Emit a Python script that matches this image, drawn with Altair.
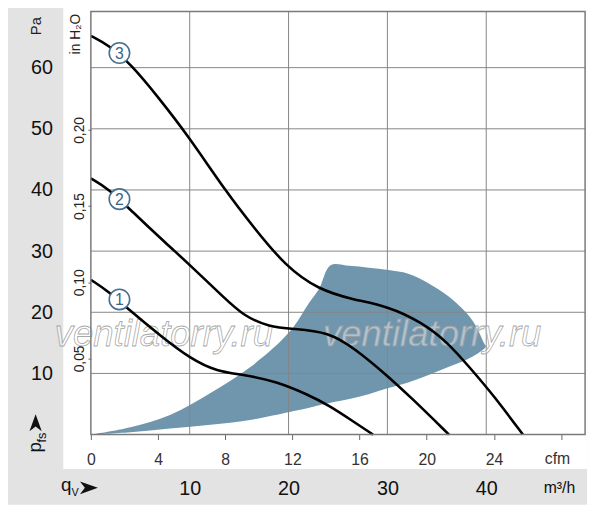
import altair as alt
import pandas as pd

# ---------------- data ----------------
# fan curves: volume flow in m³/h, static pressure in Pa
c1_q = [0, 1.8, 3.79, 7.09, 10.08, 12.77, 15.47, 18.76, 22.06, 24.05, 26.45, 28.54]
c1_p = [25.3, 23.4, 20.5, 16.1, 12.4, 10.3, 9.8, 8.7, 6.45, 4.8, 2.26, 0]

c2_q = [0, 1.8, 4.09, 7.78, 9.78, 13.47, 15.47, 18.06, 20.46, 24.05, 26.75, 29.74, 32.44, 36.23]
c2_p = [41.9, 40.2, 36.6, 31.0, 28.1, 22.4, 19.4, 17.6, 17.3, 16.8, 14.0, 10.0, 6.0, 0]

c3_q = [0, 1.8, 4.09, 6.79, 9.78, 13.77, 16.47, 19.76, 23.05, 26.45, 30.04, 33.43, 36.03, 38.42, 40.72, 43.71]
c3_p = [65.2, 63.7, 60.5, 55.2, 49.0, 39.5, 33.9, 27.4, 23.7, 22.1, 21.0, 18.4, 15.2, 10.8, 6.45, 0]

# operating range (shaded): lower and upper boundary at the same flow values
range_q = [0, 4.0, 8.0, 12.1, 16.1, 20.1, 22.1, 23.1, 24.25, 26.15, 28.1, 30.1, 32.1, 34.1, 36.1, 38.1, 39.1, 39.7, 40.0]
range_lo = [0, 0.4, 1.0, 1.6, 2.4, 3.7, 4.4, 4.8, 5.2, 5.8, 6.6, 7.6, 8.5, 9.7, 11.0, 12.3, 13.2, 13.9, 14.4]
range_hi = [0, 1.2, 3.2, 6.8, 11.0, 16.8, 21.6, 23.9, 27.7, 27.6, 27.3, 26.9, 26.3, 24.8, 22.7, 19.7, 17.3, 15.2, 14.4]

# curve number badges
badge_label = ["1", "2", "3"]
badge_q = [2.89, 2.89, 2.89]
badge_p = [22.1, 38.5, 62.4]

# axis ticks
pa_ticks = [10, 20, 30, 40, 50, 60]
m3h_ticks = [10, 20, 30, 40]
cfm_ticks = [0, 4, 8, 12, 16, 20, 24, 28]
inh2o_ticks = [0.05, 0.10, 0.15, 0.20]

watermark_text = "ventilatorry.ru"

# ---------------- layout ----------------
W, H = 501, 429
XMAX, YMAX = 50, 69.2
CFM_MAX = XMAX / 1.69901
INH_MAX = YMAX / 249.089
FONT = "Liberation Sans, Arial, Helvetica, sans-serif"

xs = alt.Scale(domain=[0, XMAX], nice=False, zero=True)
ys = alt.Scale(domain=[0, YMAX], nice=False, zero=True)

x_axis = alt.Axis(values=m3h_ticks, grid=False, ticks=False, domain=False,
                  labelFontSize=20, labelPadding=45, labelColor="#111111",
                  labelFont=FONT, labelFlush=False, labelOverlap=False,
                  title=None, zindex=1)
y_axis = alt.Axis(values=pa_ticks, grid=False, ticks=False, domain=False,
                  labelFontSize=20, labelPadding=39, labelColor="#111111",
                  labelFont=FONT, labelFlush=False, labelOverlap=False,
                  title=None, zindex=1)


def X(f):
    return alt.X(f, type="quantitative", scale=xs, axis=x_axis)


def Y(f):
    return alt.Y(f, type="quantitative", scale=ys, axis=y_axis)


one = pd.DataFrame({"a": [0]})

# backgrounds (decoration)
bg_gray = alt.Chart(one).mark_rect(color="#e3e3e3").encode(
    x=alt.value(-89), x2=alt.value(503), y=alt.value(-8), y2=alt.value(500))
bg_white = alt.Chart(one).mark_rect(color="#ffffff").encode(
    x=alt.value(-28), x2=alt.value(503), y=alt.value(-8), y2=alt.value(464))

range_df = pd.DataFrame({"q": range_q, "lo": range_lo, "hi": range_hi})
area = alt.Chart(range_df).mark_area(color="#7096ae", opacity=1, interpolate="catmull-rom").encode(
    x=X("q"), y=Y("lo"), y2=alt.Y2("hi"))

hgrid = alt.Chart(pd.DataFrame({"p": pa_ticks})).mark_rule(color="#858585", strokeWidth=1).encode(y=Y("p"))
vgrid = alt.Chart(pd.DataFrame({"q": m3h_ticks})).mark_rule(color="#858585", strokeWidth=1).encode(x=X("q"))

wm_kw = dict(text=watermark_text, fontSize=37, fontStyle="italic", font=FONT,
             fill="#ffffff", fillOpacity=0.45, stroke="#9c9c9c", strokeWidth=0.8,
             strokeOpacity=0.9, align="center", baseline="alphabetic")
wm1 = alt.Chart(one).mark_text(**wm_kw).encode(x=alt.value(74), y=alt.value(339))
wm2 = alt.Chart(one).mark_text(**wm_kw).encode(x=alt.value(346), y=alt.value(339))

curves_df = pd.concat([
    pd.DataFrame({"curve": "1", "q": c1_q, "p": c1_p}),
    pd.DataFrame({"curve": "2", "q": c2_q, "p": c2_p}),
    pd.DataFrame({"curve": "3", "q": c3_q, "p": c3_p}),
], ignore_index=True)
curves = alt.Chart(curves_df).mark_line(color="#000000", strokeWidth=2.6, interpolate="basis").encode(
    x=X("q"), y=Y("p"), detail="curve:N")

badge_df = pd.DataFrame({"label": badge_label, "q": badge_q, "p": badge_p})
badges = alt.Chart(badge_df).mark_point(shape="circle", filled=True, fill="#ffffff", fillOpacity=1,
                                        stroke="#45708e", strokeWidth=1.6, strokeOpacity=1,
                                        size=430).encode(x=X("q"), y=Y("p"))
badge_txt = alt.Chart(badge_df).mark_text(fontSize=16, color="#3a6584", align="center",
                                          baseline="middle", dy=1, font=FONT).encode(
    x=X("q"), y=Y("p"), text="label:N")

border = alt.Chart(one).mark_rect(filled=False, stroke="#7a7a7a", strokeWidth=1.5).encode(
    x=alt.value(0), x2=alt.value(W), y=alt.value(0), y2=alt.value(H))


def label(txt, x, y, size, angle=0, color="#222222", align="center", baseline="middle", weight="normal"):
    return alt.Chart(one).mark_text(text=txt, fontSize=size, angle=angle, color=color, align=align,
                                    baseline=baseline, font=FONT, fontWeight=weight).encode(
        x=alt.value(x), y=alt.value(y))


t_pa = label("Pa", -56, 15, 15, angle=270)
t_inh = label("in H₂O", -15, 23, 14, angle=270)
t_cfm = label("cfm", 473, 454, 16, color="#333333")
t_m3h = label("m³/h", 475, 483, 16, color="#111111")
t_p = label("p", -51, 442, 19, angle=270, baseline="alphabetic", color="#111111")
t_fs = label("fs", -45, 432, 13, angle=270, baseline="alphabetic", color="#111111")
t_q = label("q", -25, 486, 19, baseline="alphabetic", color="#111111")
t_v = label("V", -16, 491, 11, baseline="alphabetic", color="#111111")

arrow_up = alt.Chart(one).mark_point(shape="M0,-1 L0.72,1 L0,0.45 L-0.72,1 Z", filled=True,
                                     color="#111111", size=300, opacity=1).encode(
    x=alt.value(-56), y=alt.value(417))
arrow_right = alt.Chart(one).mark_point(shape="M1,0 L-1,0.72 L-0.45,0 L-1,-0.72 Z", filled=True,
                                        color="#111111", size=330, opacity=1).encode(
    x=alt.value(-2), y=alt.value(483))

main = alt.layer(area, hgrid, vgrid, wm1, wm2, curves, badges, badge_txt, border,
                 t_pa, t_inh, t_cfm, t_m3h, t_p, t_fs, t_q, t_v, arrow_up, arrow_right)

cfm_axis = alt.Axis(orient="bottom", values=cfm_ticks, grid=False, domain=False, ticks=True,
                    tickSize=5, tickColor="#666666", tickWidth=1, labelFontSize=16, labelPadding=12,
                    labelColor="#333333", labelFont=FONT, labelFlush=False, labelOverlap=False,
                    labelExpr="datum.value <= 24 ? datum.label : ''", title=None, zindex=1)
inh_axis = alt.Axis(orient="left", values=inh2o_ticks, grid=False, domain=False, ticks=True,
                    tickSize=3, tickColor="#666666", tickWidth=1, labelAngle=270, labelAlign="center",
                    labelBaseline="alphabetic", labelPadding=4, labelFontSize=14, labelColor="#222222",
                    labelFont=FONT, labelFlush=False, labelOverlap=False,
                    labelExpr="replace(format(datum.value, '.2f'), '.', ',')", title=None, zindex=1)

helper = alt.Chart(pd.DataFrame({"cfm": [0, CFM_MAX], "inh": [0, INH_MAX]})).mark_point(opacity=0).encode(
    x=alt.X("cfm:Q", scale=alt.Scale(domain=[0, CFM_MAX], nice=False), axis=cfm_axis),
    y=alt.Y("inh:Q", scale=alt.Scale(domain=[0, INH_MAX], nice=False), axis=inh_axis))

chart = alt.layer(bg_gray, bg_white, main, helper).resolve_scale(
    x="independent", y="independent"
).properties(
    width=W, height=H,
    autosize=alt.AutoSizeParams(type="none"),
    padding={"left": 84, "top": 0, "right": 7, "bottom": 72},
).configure_view(strokeWidth=0)

chart.save("out.html", embed_options={"renderer": "svg", "actions": False})
